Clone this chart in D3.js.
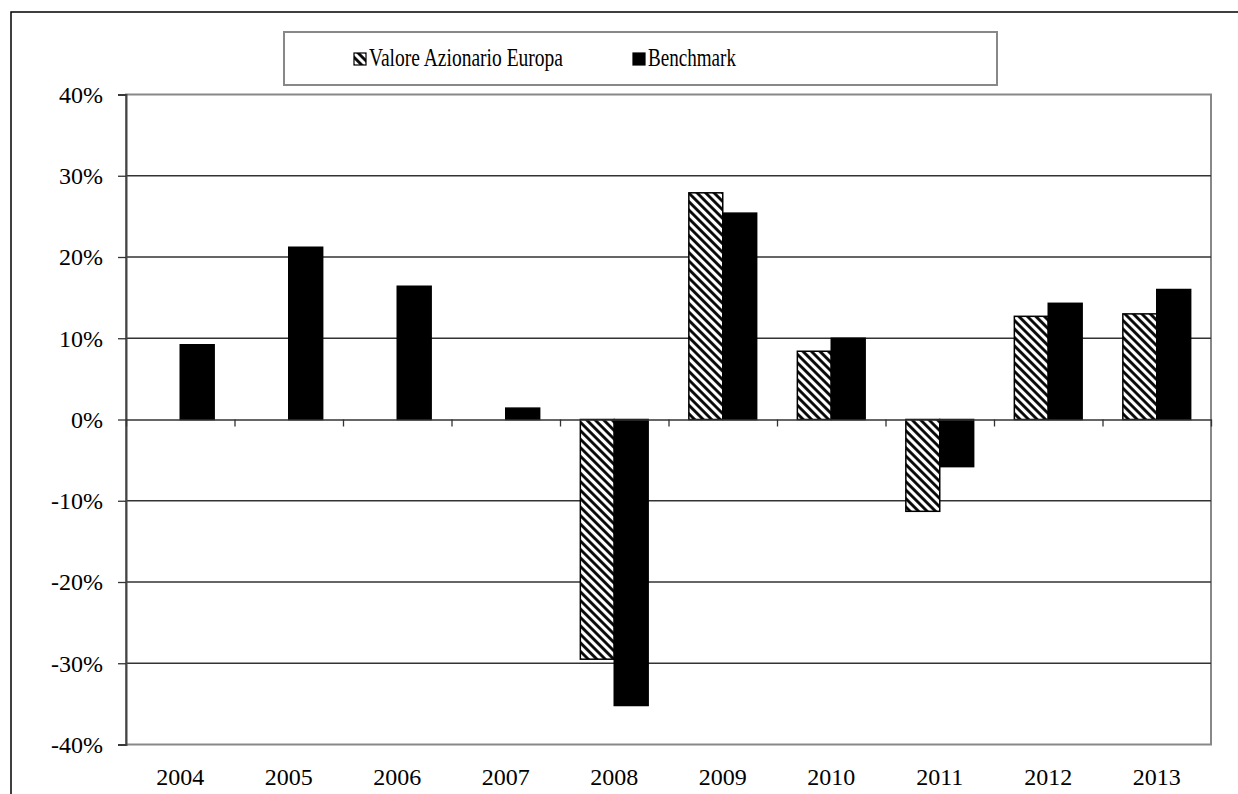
<!DOCTYPE html>
<html>
<head>
<meta charset="utf-8">
<script src="https://cdn.jsdelivr.net/npm/d3@7"></script>
<style>
  body { margin: 0; background: #fff; }
  svg text { font-family: "Liberation Serif", "Times New Roman", serif; fill: #000; }
</style>
</head>
<body>
<div class="graph"></div>
<script>
const years = ['2004', '2005', '2006', '2007', '2008', '2009', '2010', '2011', '2012', '2013'];
const valore = [null, null, null, null, -29.5, 27.9, 8.4, -11.3, 12.7, 13.0];
const benchmark = [9.2, 21.2, 16.4, 1.4, -35.2, 25.4, 10.0, -5.8, 14.3, 16.0];
const seriesNames = ['Valore Azionario Europa', 'Benchmark'];
const yTicks = [-40, -30, -20, -10, 0, 10, 20, 30, 40];

const W = 1238, H = 794;
const plot = {left: 126, right: 1211, top: 94.5, bottom: 744.5};

const svg = d3.select('.graph').append('svg')
    .attr('width', W)
    .attr('height', H);

// hatch pattern
const defs = svg.append('defs');
const pat = defs.append('pattern')
    .attr('id', 'hatch')
    .attr('patternUnits', 'userSpaceOnUse')
    .attr('width', 6)
    .attr('height', 6)
    .attr('patternTransform', 'rotate(-45)');
pat.append('rect').attr('width', 6).attr('height', 6).attr('fill', '#fff');
pat.append('line')
    .attr('x1', 1.5).attr('y1', 0).attr('x2', 1.5).attr('y2', 6)
    .attr('stroke', '#000').attr('stroke-width', 2.8);

// outer frame
svg.append('rect')
    .attr('x', 11).attr('y', 12)
    .attr('width', 1260).attr('height', 820)
    .attr('fill', 'none').attr('stroke', '#000').attr('stroke-width', 1.5);

const x0 = d3.scaleBand()
    .domain(years)
    .range([plot.left, plot.right])
    .paddingInner(0.375)
    .paddingOuter(0.1875);

const x1 = d3.scaleBand()
    .domain(seriesNames)
    .range([0, x0.bandwidth()]);

const y = d3.scaleLinear()
    .domain([-40, 40])
    .range([plot.bottom, plot.top]);

// plot area border
svg.append('rect')
    .attr('x', plot.left).attr('y', plot.top)
    .attr('width', plot.right - plot.left).attr('height', plot.bottom - plot.top)
    .attr('fill', 'none').attr('stroke', '#888').attr('stroke-width', 2);

// gridlines
svg.append('g')
  .selectAll('line')
  .data(yTicks.filter(d => d !== 0 && Math.abs(d) !== 40))
  .enter().append('line')
    .attr('x1', plot.left).attr('x2', plot.right)
    .attr('y1', d => y(d)).attr('y2', d => y(d))
    .attr('stroke', '#333').attr('stroke-width', 1.3);

// y axis
const yAxis = d3.axisLeft(y)
    .tickValues(yTicks)
    .tickFormat(d => d + '%')
    .tickSize(8)
    .tickPadding(15);

const gy = svg.append('g')
    .attr('transform', 'translate(' + plot.left + ',0)')
    .call(yAxis);
gy.select('.domain').attr('stroke', '#444').attr('stroke-width', 2);
gy.selectAll('.tick line').attr('stroke', '#333').attr('stroke-width', 1.3);
gy.selectAll('.tick text').attr('font-size', 24).attr('dy', '0.33em');

// data rows
const rows = years.map((yr, i) => ({year: yr, values: [valore[i], benchmark[i]]}));

const groups = svg.append('g')
  .selectAll('g')
  .data(rows)
  .enter().append('g')
    .attr('transform', d => 'translate(' + x0(d.year) + ',0)');

groups.selectAll('rect')
  .data(d => d.values.map((v, j) => ({name: seriesNames[j], value: v})).filter(e => e.value !== null))
  .enter().append('rect')
    .attr('x', d => x1(d.name))
    .attr('width', x1.bandwidth())
    .attr('y', d => y(Math.max(0, d.value)))
    .attr('height', d => Math.abs(y(d.value) - y(0)))
    .attr('fill', d => d.name === seriesNames[0] ? 'url(#hatch)' : '#000')
    .attr('stroke', '#000')
    .attr('stroke-width', 1.5);

// zero axis with category boundary ticks
const xb = d3.scaleLinear().domain([0, years.length]).range([plot.left, plot.right]);
const zeroAxis = d3.axisBottom(xb)
    .tickValues(d3.range(0, years.length + 1))
    .tickFormat('')
    .tickSizeInner(7)
    .tickSizeOuter(0);
const gz = svg.append('g')
    .attr('transform', 'translate(0,' + y(0) + ')')
    .call(zeroAxis);
gz.select('.domain').attr('stroke', '#333').attr('stroke-width', 1.5);
gz.selectAll('.tick line').attr('stroke', '#333').attr('stroke-width', 1.3);

// category labels
svg.append('g')
  .selectAll('text')
  .data(years)
  .enter().append('text')
    .attr('x', d => x0(d) + x0.bandwidth() / 2)
    .attr('y', 785)
    .attr('text-anchor', 'middle')
    .attr('font-size', 24)
    .text(d => d);

// legend
const lg = svg.append('g');
lg.append('rect')
    .attr('x', 284).attr('y', 32)
    .attr('width', 713).attr('height', 53)
    .attr('fill', '#fff').attr('stroke', '#888').attr('stroke-width', 2);

const legendItems = [
  {name: seriesNames[0], fill: 'url(#hatch)', x: 354, len: 194},
  {name: seriesNames[1], fill: '#000', x: 633, len: 88}
];
const li = lg.selectAll('g.item')
  .data(legendItems)
  .enter().append('g')
    .attr('class', 'item')
    .attr('transform', d => 'translate(' + d.x + ',0)');
li.append('rect')
    .attr('x', 0).attr('y', 53)
    .attr('width', 12).attr('height', 12)
    .attr('fill', d => d.fill)
    .attr('stroke', '#000').attr('stroke-width', 1.2);
li.append('text')
    .attr('x', 15).attr('y', 66)
    .attr('font-size', 25)
    .attr('textLength', d => d.len)
    .attr('lengthAdjust', 'spacingAndGlyphs')
    .text(d => d.name);
</script>
</body>
</html>
